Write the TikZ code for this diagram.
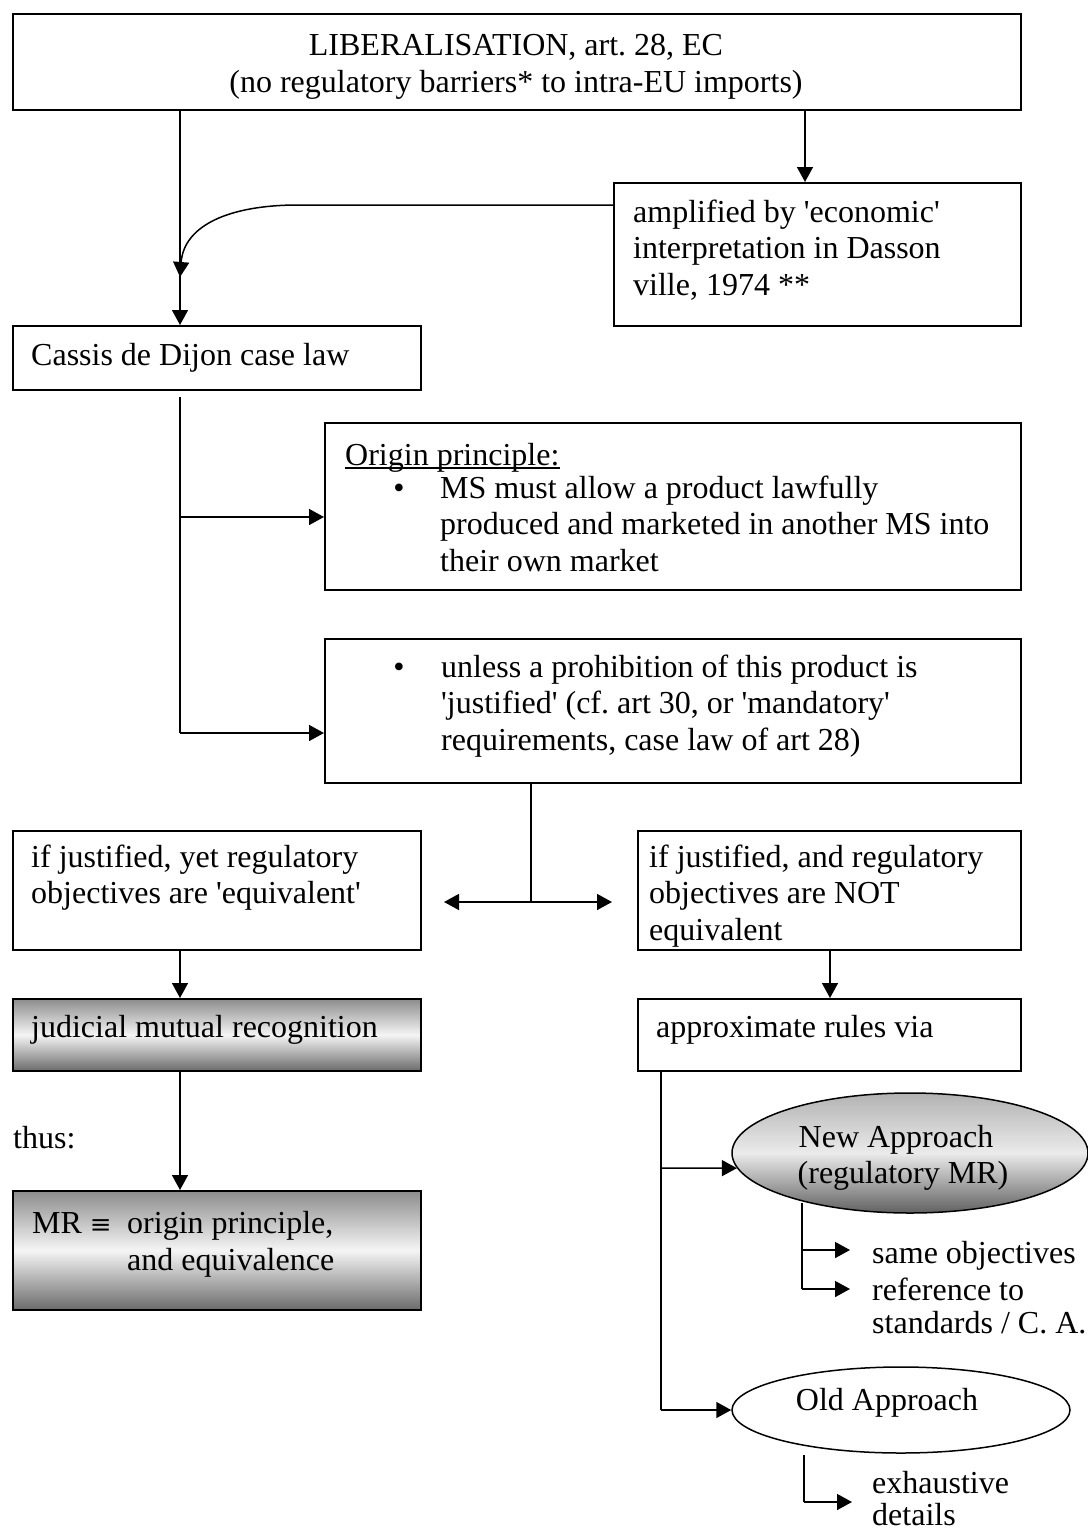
\documentclass[tikz,border=0pt]{standalone}
\usepackage{fontspec}
\setmainfont{Liberation Serif}
\newfontfamily\symfont{DejaVu Serif}
\usetikzlibrary{arrows.meta,shapes.geometric}
\begin{document}
\frenchspacing
\begin{tikzpicture}[x=1pt,y=-1pt,
  box/.style={draw, line width=1.7pt, rectangle, inner sep=0pt, anchor=north west},
  txt/.style={inner sep=0pt, anchor=base west, font=\fontsize{32}{37}\selectfont},
  ctxt/.style={txt, anchor=base},
  conn/.style={line width=1.5pt},
  arr/.style={conn, -{Triangle[length=15pt,width=16pt]}},
  darr/.style={conn, {Triangle[length=15pt,width=16pt]}-{Triangle[length=15pt,width=16pt]}},
  shadebox/.style={top color=black!45, bottom color=black!58, middle color=black!4},
  oval/.style={draw, line width=1.5pt, ellipse, inner sep=0pt}
]
\useasboundingbox (0,0) rectangle (1087,1531);

% boxes
\node[box, minimum width=1008pt, minimum height=96pt] (lib) at (12,13) {};
\node[box, minimum width=407pt, minimum height=143pt] (amp) at (613,182) {};
\node[box, minimum width=408pt, minimum height=64pt] (cas) at (12,325) {};
\node[box, minimum width=696pt, minimum height=167pt] (ori) at (324,422) {};
\node[box, minimum width=696pt, minimum height=144pt] (unl) at (324,638) {};
\node[box, minimum width=408pt, minimum height=119pt] (ify) at (12,830) {};
\node[box, minimum width=383pt, minimum height=119pt] (ifn) at (637,830) {};
\node[box, shadebox, minimum width=408pt, minimum height=72pt] (jud) at (12,998) {};
\node[box, minimum width=383pt, minimum height=72pt] (app) at (637,998) {};
\node[box, shadebox, minimum width=408pt, minimum height=119pt] (mr) at (12,1190) {};
\node[oval, top color=black!30, bottom color=black!62, middle color=black!8,
      minimum width=356pt, minimum height=120pt] (na) at (910,1153) {};
\node[oval, fill=white, minimum width=338pt, minimum height=86pt] (oa) at (901,1410) {};

% texts
\node[ctxt] (lib1) at (516,55) {LIBERALISATION, art. 28, EC};
\node[ctxt] (lib2) at (516,92) {(no regulatory barriers* to intra-EU imports)};
\node[txt] (amp1) at (633,222) {amplified by \textquotesingle economic\textquotesingle};
\node[txt] (amp2) at (633,258) {interpretation in Dasson};
\node[txt] (amp3) at (633,295) {ville, 1974 **};
\node[txt] (cas1) at (31,365) {Cassis de Dijon case law};
\node[txt] (ori0) at (345,465) {Origin principle:};
\draw[line width=1.3pt] ([yshift=-3pt]ori0.base west) -- ([yshift=-3pt]ori0.base east);
\node[ctxt] (ob) at (399,498) {\textbullet};
\node[txt] (ori1) at (440,498) {MS must allow a product lawfully};
\node[txt] (ori2) at (440,534) {produced and marketed in another MS into};
\node[txt] (ori3) at (440,571) {their own market};
\node[ctxt] (ub) at (399,677) {\textbullet};
\node[txt] (unl1) at (441,677) {unless a prohibition of this product is};
\node[txt] (unl2) at (441,713) {\textquotesingle justified\textquotesingle{} (cf. art 30, or \textquotesingle mandatory\textquotesingle};
\node[txt] (unl3) at (441,750) {requirements, case law of art 28)};
\node[txt] (ify1) at (31,867) {if justified, yet regulatory};
\node[txt] (ify2) at (31,903) {objectives are \textquotesingle equivalent\textquotesingle};
\node[txt] (ifn1) at (649,867) {if justified, and regulatory};
\node[txt] (ifn2) at (649,903) {objectives are NOT};
\node[txt] (ifn3) at (649,940) {equivalent};
\node[txt] (jud1) at (31,1037) {judicial mutual recognition};
\node[txt] (app1) at (656,1037) {approximate rules via};
\node[txt] (thus) at (13,1148) {thus:};
\node[txt] (mr0) at (32,1233) {MR {\symfont\fontsize{26}{30}\selectfont ≡}};
\node[txt] (mr1) at (127,1233) {origin principle,};
\node[txt] (mr2) at (127,1270) {and equivalence};
\node[ctxt] (na1) at (896,1147) {New Approach};
\node[ctxt] (na2) at (903,1183) {(regulatory MR)};
\node[txt] (s1) at (872,1263) {same objectives};
\node[txt] (s2) at (872,1300) {reference to};
\node[txt] (s3) at (872,1333) {standards / C. A.};
\node[ctxt] (oa1) at (887,1410) {Old Approach};
\node[txt] (e1) at (872,1493) {exhaustive};
\node[txt] (e2) at (872,1525) {details};

% helper coordinates
\coordinate (cL) at (180,0);
\coordinate (cR) at (805,0);
\coordinate (cm) at (180,277);
\coordinate (bend) at (298,205);
\coordinate (c1) at (180,397);
\coordinate (c2) at (180,517);
\coordinate (c3) at (180,733);
\coordinate (d1) at (531,902);
\coordinate (dl) at (444,902);
\coordinate (dr) at (612,902);
\coordinate (cN) at (830,0);
\coordinate (v1) at (661,1168);
\coordinate (v2) at (661,1410);
\coordinate (n0) at (802,1203);
\coordinate (n1) at (802,1250);
\coordinate (n2) at (802,1289);
\coordinate (o0) at (804,1455);
\coordinate (o1) at (804,1502);

% connectors
\draw[arr] (lib.south -| cL) -- (cas.north -| cL);
\draw[arr] (lib.south -| cR) -- (amp.north -| cR);
\draw[arr] ([yshift=-23pt]amp.north west) -- (bend) .. controls (230,205) and (184,225) .. (cm);
\draw[conn] (c1) -- (c3);
\draw[arr] (c2) -- (c2 -| ori.west);
\draw[arr] (c3) -- (c3 -| unl.west);
\draw[conn] (unl.south -| d1) -- (d1);
\draw[darr] (dl) -- (dr);
\draw[arr] (ify.south -| cL) -- (jud.north -| cL);
\draw[arr] (ifn.south -| cN) -- (app.north -| cN);
\draw[arr] (jud.south -| cL) -- (mr.north -| cL);
\draw[conn] (app.south -| v1) -- (v2);
\draw[arr] (v1) -- (na.185);
\draw[arr] (v2) -- (oa.west);
\draw[conn] (n0) -- (n2);
\draw[arr] (n1) -- ++(48,0);
\draw[arr] (n2) -- ++(48,0);
\draw[conn] (o0) -- (o1);
\draw[arr] (o1) -- ++(48,0);
\end{tikzpicture}
\end{document}
